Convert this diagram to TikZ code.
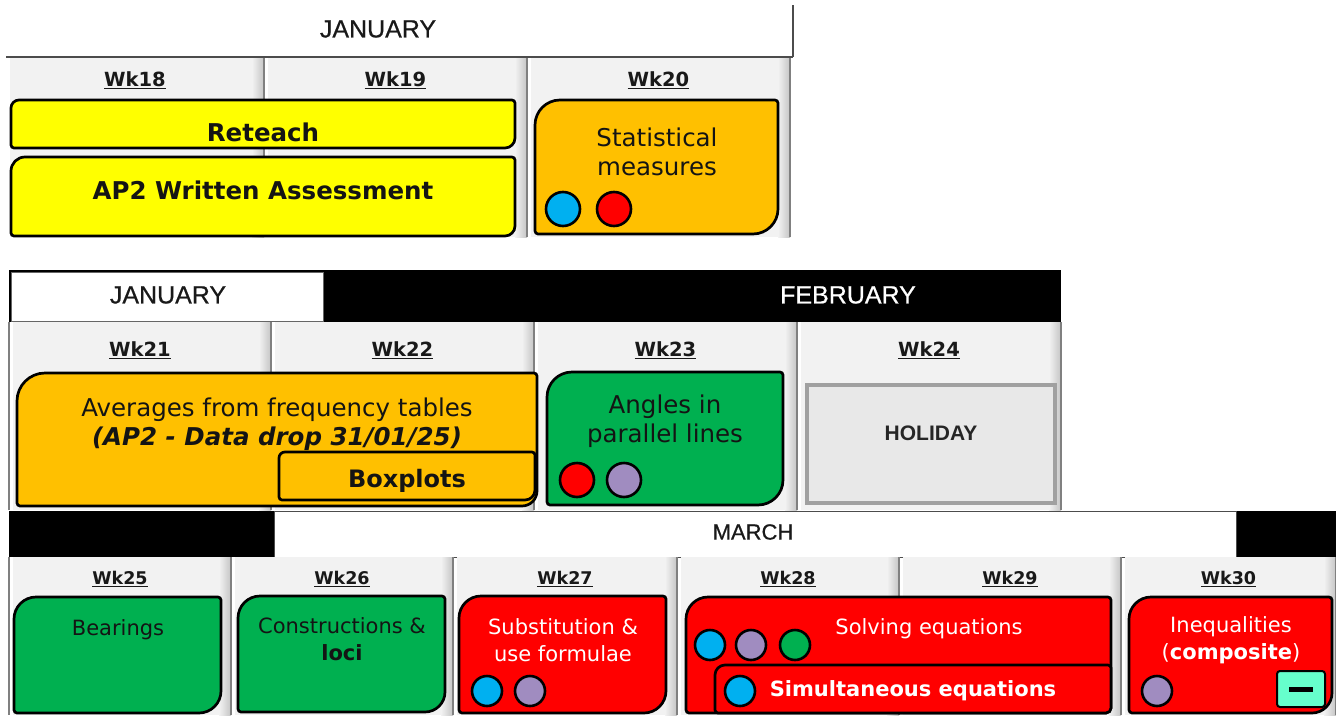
\documentclass[tikz,border=0pt]{standalone}
\usepackage{fontspec}
\setmainfont{DejaVu Sans}
\newfontfamily\hdrfont[FakeBold=0.6]{Liberation Sans}
\newfontfamily\holfont{Liberation Sans}
\definecolor{cellgray}{HTML}{F2F2F2}
\definecolor{cellshade}{HTML}{C4C4C4}
\definecolor{divgray}{HTML}{808080}
\definecolor{ylw}{HTML}{FFFF00}
\definecolor{orng}{HTML}{FFC000}
\definecolor{grn}{HTML}{00B050}
\definecolor{rd}{HTML}{FF0000}
\definecolor{blu}{HTML}{00B0F0}
\definecolor{prpl}{HTML}{A08CC0}
\definecolor{teal}{HTML}{66FFCC}
\definecolor{holfill}{HTML}{E8E8E8}
\definecolor{holdraw}{HTML}{A0A0A0}
\newcommand\fsBig{\fontsize{24.5}{29.5}\selectfont}
\newcommand\fsSmall{\fontsize{21}{26.5}\selectfont}
% box with rounded top-left (#6) and bottom-right (#7) corners
\newcommand\tlbrbox[7]{%
 \draw[#1] ({#2},{#3+#6}) .. controls ({#2},{#3+0.45*#6}) and ({#2+0.45*#6},{#3}) .. ({#2+#6},{#3})
  -- ({#4-3},{#3}) .. controls ({#4-1.35},{#3}) and ({#4},{#3+1.35}) .. ({#4},{#3+3})
  -- ({#4},{#5-#7}) .. controls ({#4},{#5-0.45*#7}) and ({#4-0.45*#7},{#5}) .. ({#4-#7},{#5})
  -- ({#2+3},{#5}) .. controls ({#2+1.35},{#5}) and ({#2},{#5-1.35}) .. ({#2},{#5-3}) -- cycle;}
% week cell: #1 name, #2 x1, #3 x2, #4 ytop, #5 ybot, #6 label, #7 label y, #8 font size
\newcommand\wkcell[8]{%
 \fill[cellgray] ({#2+4},{#4}) rectangle ({#3},{#5});
 \shade[left color=cellgray, right color=cellshade] ({#3-12},{#4}) rectangle ({#3},{#5});
 \draw[divline] ({#3},{#4}) -- ({#3},{#5});
 \node[wklabel, font=\bfseries\fontsize{#8}{#8}\selectfont] (#1) at ({(#2+#3)/2},{#7}) {\underline{#6}};}
\tikzset{
 divline/.style={draw=divgray, line width=1.5pt},
 wklabel/.style={inner sep=0pt, text=black!90},
 topic/.style={draw=black, line width=2.7pt, line join=round},
 ttext/.style={align=center, inner sep=0pt, text=black!92},
 wtext/.style={align=center, inner sep=0pt, text=white},
 dot/.style={circle, draw=black, line width=2.6pt, inner sep=0pt, minimum size=#1},
 dot/.default=33pt,
 monthtxt/.style={inner sep=0pt, font=\hdrfont\fontsize{25}{25}\selectfont},
}
\begin{document}
\begin{tikzpicture}[x=1pt,y=-1pt]
\useasboundingbox[fill=white] (0,0) rectangle (1336,715);

% ---------------- Section 1 ----------------
\node[monthtxt, text=black!90] (jan1) at (378,29) {JANUARY};
\wkcell{wk18}{6}{264}{57}{237}{Wk18}{80}{19.5}
\wkcell{wk19}{264}{527}{57}{237}{Wk19}{80}{19.5}
\wkcell{wk20}{527}{790}{57}{237}{Wk20}{80}{19.5}
\draw[draw=black!70, line width=1.5pt] (6,57) -- (793,57);
\draw[draw=black!70, line width=1.5pt] (793,5) -- (793,57);

\tlbrbox{topic, fill=ylw}{11}{100}{515}{148}{8}{10}
\node[ttext, font=\bfseries\fontsize{24.5}{24.5}\selectfont] (reteach) at (263,132) {Reteach};
\tlbrbox{topic, fill=ylw}{11}{157}{515}{236}{14}{10}
\node[ttext, font=\bfseries\fontsize{24.5}{24.5}\selectfont] (ap2) at (263,190) {AP2 Written Assessment};
\tlbrbox{topic, fill=orng}{535}{100}{778}{234}{25}{25}
\node[ttext, font=\fsBig] (stat) at (657,152) {Statistical\\measures};
\node[dot=34pt, fill=blu] (stat1) at (563,209) {};
\node[dot=34pt, fill=rd] (stat2) at (614,209) {};

% ---------------- Section 2 ----------------
\fill[black] (9,270) rectangle (1061,322);
\draw[fill=white, draw=black!60, line width=1pt] (11,272) rectangle (323,321);
\node[monthtxt, text=black!90] (jan2) at (168,295) {JANUARY};
\node[monthtxt, text=white] (feb) at (848,295) {FEBRUARY};
\wkcell{wk21}{9}{271}{322}{510}{Wk21}{350}{19.5}
\wkcell{wk22}{271}{534}{322}{510}{Wk22}{350}{19.5}
\wkcell{wk23}{534}{797}{322}{510}{Wk23}{350}{19.5}
\wkcell{wk24}{797}{1061}{322}{510}{Wk24}{350}{19.5}
\draw[divline] (9,322) -- (9,510);

\tlbrbox{topic, fill=orng}{17}{373}{537}{506}{28}{15}
\node[ttext, font=\fsBig] (avg) at (277,424) {Averages from frequency tables\\\textbf{\textit{(AP2 - Data drop 31/01/25)}}};
\tlbrbox{topic, fill=orng}{279}{452}{535}{500}{6}{10}
\node[ttext, font=\bfseries\fontsize{24}{24}\selectfont] (box) at (407,481) {Boxplots};
\tlbrbox{topic, fill=grn}{547}{372}{783}{505}{25}{25}
\node[ttext, font=\fsBig] (angles) at (665,421) {Angles in\\parallel lines};
\node[dot=34pt, fill=rd] (ang1) at (577,480) {};
\node[dot=34pt, fill=prpl] (ang2) at (624,480) {};
\draw[fill=holfill, draw=holdraw, line width=4pt] (807,385) rectangle (1055,503);
\node[inner sep=0pt, text=black!85, font=\holfont\bfseries\fontsize{21}{21}\selectfont] (hol) at (931,433) {HOLIDAY};

% ---------------- Section 3 ----------------
\fill[black] (9,511) rectangle (274,557);
\fill[black] (1236,511) rectangle (1336,557);
\draw[fill=white, draw=black!70, line width=1pt] (274,511) rectangle (1236,557);
\node[monthtxt, text=black!90, font=\hdrfont\fontsize{22}{22}\selectfont] (mar) at (753,532) {MARCH};
\wkcell{wk25}{9}{231}{557}{715}{Wk25}{579}{17.5}
\wkcell{wk26}{231}{453}{557}{715}{Wk26}{579}{17.5}
\wkcell{wk27}{453}{677}{557}{715}{Wk27}{579}{17.5}
\wkcell{wk28}{677}{899}{557}{715}{Wk28}{579}{17.5}
\wkcell{wk29}{899}{1121}{557}{715}{Wk29}{579}{17.5}
\wkcell{wk30}{1121}{1336}{557}{715}{Wk30}{579}{17.5}
\draw[divline] (9,557) -- (9,715);

\tlbrbox{topic, fill=grn}{14}{597}{221}{713}{22}{22}
\node[ttext, font=\fsSmall] (bear) at (118,630) {Bearings};
\tlbrbox{topic, fill=grn}{238}{596}{445}{712}{22}{20}
\node[ttext, font=\fsSmall] (cons) at (342,639) {Constructions \&\\\textbf{loci}};
\tlbrbox{topic, fill=rd}{459}{596}{666}{713}{22}{22}
\node[wtext, font=\fsSmall] (subs) at (563,640) {Substitution \&\\use formulae};
\node[dot=30pt, fill=blu] (subs1) at (487,691) {};
\node[dot=30pt, fill=prpl] (subs2) at (530,691) {};
\tlbrbox{topic, fill=rd}{686}{597}{1111}{713}{22}{5}
\node[wtext, font=\fsSmall] (solve) at (929,629) {Solving equations};
\node[dot=30pt, fill=blu] (solve1) at (710,645) {};
\node[dot=30pt, fill=prpl] (solve2) at (751,645) {};
\node[dot=30pt, fill=grn] (solve3) at (795,645) {};
\tlbrbox{topic, fill=rd}{715}{665}{1111}{713}{10}{5}
\node[wtext, font=\bfseries\fontsize{21}{21}\selectfont] (simul) at (913,691) {Simultaneous equations};
\node[dot=30pt, fill=blu] (simul1) at (740,691) {};
\tlbrbox{topic, fill=rd}{1129}{597}{1332}{713}{22}{20}
\node[wtext, font=\fsSmall] (ineq) at (1231,640) {Inequalities\\(\textbf{composite})};
\node[dot=30pt, fill=prpl] (ineq1) at (1157,691) {};
\node[draw=black, line width=2pt, fill=teal, rounded corners=3pt, minimum width=48pt, minimum height=36pt, inner sep=0pt] (minus) at (1301,689) {};
\draw[line width=5pt] ([xshift=-12pt]minus.center) -- ([xshift=12pt]minus.center);
\end{tikzpicture}
\end{document}
